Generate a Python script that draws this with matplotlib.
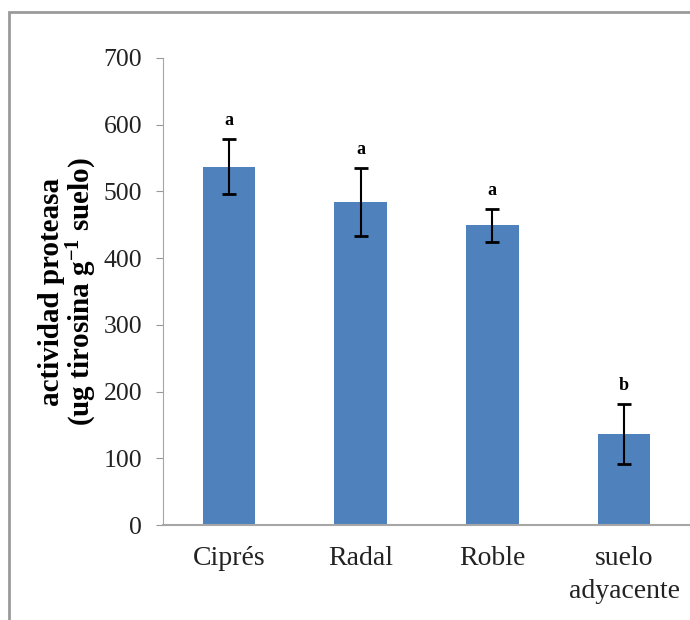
import matplotlib.pyplot as plt
from matplotlib.patches import Rectangle

categories = ["Ciprés", "Radal", "Roble", "suelo\nadyacente"]
values = [537, 484, 449, 137]
errors = [41, 51, 25, 45]
letters = ["a", "a", "a", "b"]

plt.rcParams['font.family'] = ['Liberation Serif', 'DejaVu Serif']
plt.rcParams['mathtext.fontset'] = 'custom'
plt.rcParams['mathtext.rm'] = 'Liberation Serif:bold'
plt.rcParams['mathtext.default'] = 'rm'

fig = plt.figure(figsize=(6.9, 6.2), dpi=100)
# grey frame round the chart area
fig.patches.append(Rectangle((9 / 690, -0.01), 1.2, 1 - 12 / 620 + 0.01,
                             transform=fig.transFigure, fill=False,
                             edgecolor='#9a9a9a', linewidth=2))

ax = fig.add_axes([163 / 690, 95 / 620, 527 / 690, 467 / 620])
x = range(len(categories))
ax.bar(x, values, width=0.4, color='#4f81bd')
ax.errorbar(x, values, yerr=errors, fmt='none', ecolor='black',
            elinewidth=1.5, capsize=5, capthick=2)
for i in x:
    ax.text(i, values[i] + errors[i] + 15, letters[i], ha='center',
            va='bottom', fontsize=13, fontweight='bold')

ax.set_xlim(-0.5, 3.5)
ax.set_ylim(0, 700)
ax.set_yticks(range(0, 701, 100))
ax.set_xticks(list(x))
ax.set_xticklabels(categories, fontsize=20, color='#222222', linespacing=1.45)
ax.tick_params(axis='x', length=0, pad=15)
ax.tick_params(axis='y', labelsize=18.5, colors='#999999', length=5, pad=10,
               labelcolor='#222222')
for s in ['top', 'right']:
    ax.spines[s].set_visible(False)
ax.spines['left'].set_color('#a6a6a6')
ax.spines['bottom'].set_color('#a6a6a6')
ax.spines['bottom'].set_linewidth(1.5)
ax.set_ylabel("actividad proteasa\n(ug tirosina g$^{-1}$ suelo)",
              fontsize=21, fontweight='bold', labelpad=3, linespacing=1.0)

fig.savefig("out.png", dpi=100)
